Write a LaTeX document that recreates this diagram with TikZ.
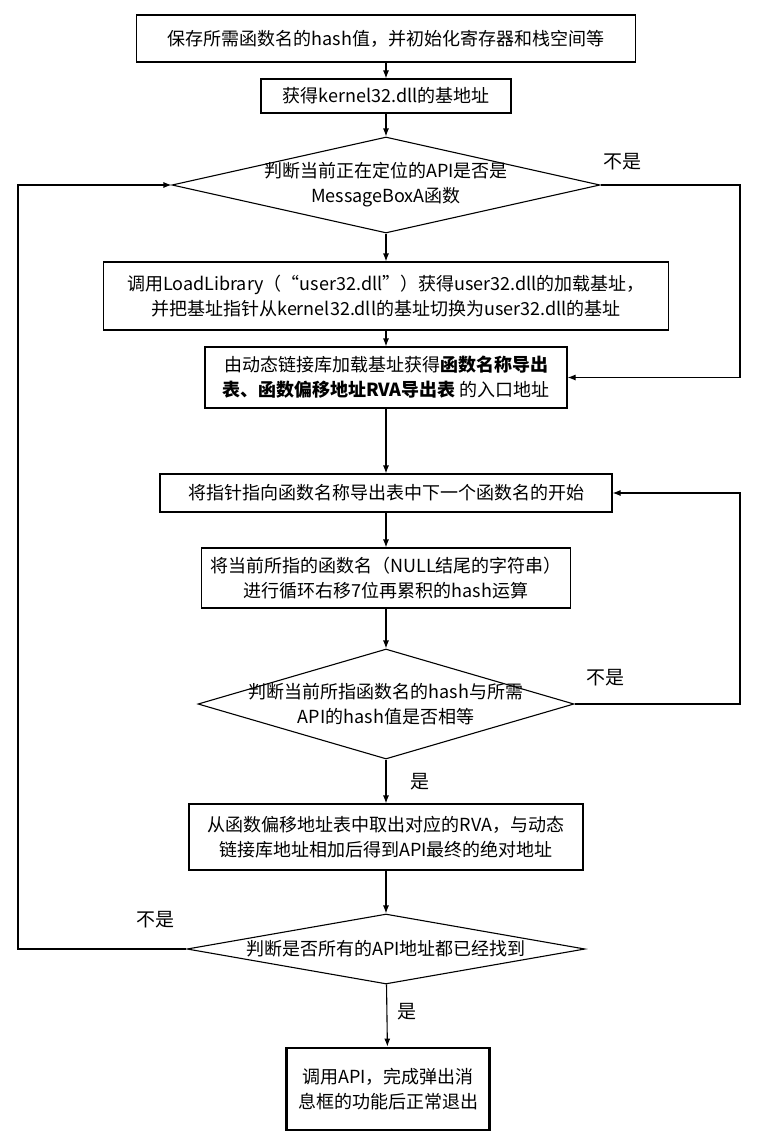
\documentclass[tikz,border=0pt]{standalone}
\usepackage{fontspec}
\setmainfont{Noto Sans CJK SC}
\usetikzlibrary{shapes.geometric,arrows.meta}

\begin{document}
\begin{tikzpicture}[x=1pt,y=-1pt,
    every node/.style={font=\fontsize{18}{25}\selectfont},
    box/.style={draw,line width=1.1pt,align=center,inner sep=0pt},
    choice/.style={draw,diamond,line width=1.1pt,inner sep=0pt},
    flow/.style={line width=1.1pt,-{Latex[length=8pt,width=6pt]}},
    note/.style={font=\fontsize{19}{22}\selectfont}]

    \useasboundingbox (0,0) rectangle (758,1134);

    % main column
    \node [box,minimum width=499pt,minimum height=47pt] (init) at (386,38.5)
        {保存所需函数名的hash值，并初始化寄存器和栈空间等};
    \node [box,minimum width=250pt,minimum height=34pt] (base) at (386,96)
        {获得kernel32.dll的基地址};
    \node [choice,minimum width=428pt,minimum height=96pt,
        label={[align=center]center:判断当前正在定位的API是否是\\MessageBoxA函数}] (isbox) at (386,185) {};
    \node [box,minimum width=565pt,minimum height=68pt] (loadlib) at (386,296)
        {调用LoadLibrary（“user32.dll”）获得user32.dll的加载基址，\\
         并把基址指针从kernel32.dll的基址切换为user32.dll的基址};
    \node [box,minimum width=362pt,minimum height=61pt] (tables) at (386,377.5)
        {由动态链接库加载基址获得\textbf{函数名称导出}\\
         \textbf{表、函数偏移地址RVA导出表} 的入口地址};
    \node [box,minimum width=452pt,minimum height=38pt] (next) at (386,493)
        {将指针指向函数名称导出表中下一个函数名的开始};
    \node [box,minimum width=369pt,minimum height=60pt] (hash) at (386,578)
        {将当前所指的函数名（NULL结尾的字符串）\\进行循环右移7位再累积的hash运算};
    \node [choice,minimum width=376pt,minimum height=110pt,
        label={[align=center]center:判断当前所指函数名的hash与所需\\API的hash值是否相等}] (same) at (386,704) {};
    \node [box,minimum width=394pt,minimum height=66pt] (addr) at (386,837)
        {从函数偏移地址表中取出对应的RVA，与动态\\链接库地址相加后得到API最终的绝对地址};
    \node [choice,minimum width=398pt,minimum height=70pt,
        label={center:判断是否所有的API地址都已经找到}] (alldone) at (386,949) {};
    \node [box,line width=2.8pt,minimum width=203pt,minimum height=82pt] (finish) at (388,1089)
        {调用API，完成弹出消\\息框的功能后正常退出};

    % yes / no labels
    \node [note] (no1) at (622,162) {不是};
    \node [note] (no2) at (605,678) {不是};
    \node [note] (no3) at (155,920) {不是};
    \node [note] (yes1) at (420,782) {是};
    \node [note] (yes2) at (407,1012) {是};

    \coordinate (rgt) at (740,0);
    \coordinate (lft) at (18,0);

    \draw [flow] (init) -- (base);
    \draw [flow] (base) -- (isbox);
    \draw [flow] (isbox) -- (loadlib);
    \draw [flow] (loadlib) -- (tables);
    \draw [flow] (tables) -- (next);
    \draw [flow] (next) -- (hash);
    \draw [flow] (hash) -- (same);
    \draw [flow] (same) -- (addr);
    \draw [flow] (addr) -- (alldone);
    \draw [flow] (alldone) -- (finish);

    % loops
    \draw [flow] (isbox.east) -- (isbox.east -| rgt) |- (tables.east);
    \draw [flow] (same.east) -- (same.east -| rgt) |- (next.east);
    \draw [flow] (alldone.west) -- (alldone.west -| lft) |- (isbox.west);

\end{tikzpicture}
\end{document}
